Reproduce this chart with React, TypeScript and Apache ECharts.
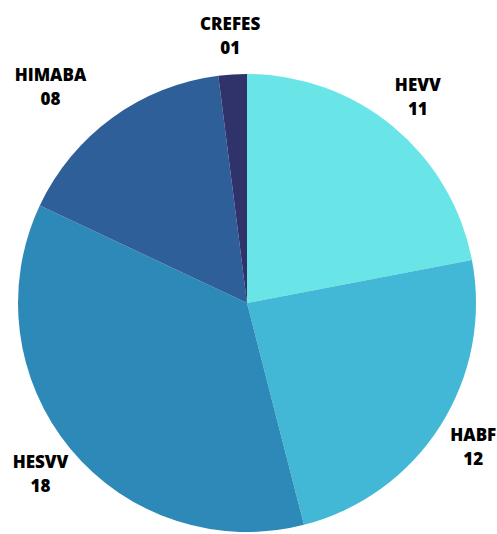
import React, { useEffect, useRef } from "react";
import * as echarts from "echarts";

const categories = ["HEVV", "HABF", "HESVV", "HIMABA", "CREFES"];
const values = [11, 12, 18, 8, 1];
const colors = ["#69E5E8", "#42B7D6", "#2D8AB8", "#2E5F99", "#2F3369"];

const pad2 = (v: number) => (v < 10 ? "0" + v : String(v));

export default function App() {
  const ref = useRef<HTMLDivElement>(null);
  useEffect(() => {
    if (!ref.current) return;
    const chart = echarts.init(ref.current, undefined, { renderer: "svg" });
    const pieData = categories.map((c, i) => ({
      name: c,
      value: values[i],
      itemStyle: { color: colors[i] },
    }));
    const labelData = categories.map((c, i) => ({
      name: c,
      value: values[i],
      label: c === "HIMABA" ? { padding: [0, 78, 0, 0] } : {},
    }));
    chart.setOption({
      animation: false,
      backgroundColor: "#ffffff",
      series: [
        {
          type: "pie",
          center: [247, 303],
          radius: [0, 229],
          startAngle: 90,
          clockwise: true,
          silent: true,
          label: { show: false },
          labelLine: { show: false },
          itemStyle: { borderWidth: 0 },
          data: pieData,
        },
        {
          type: "pie",
          center: [247, 303],
          radius: [245, 285],
          startAngle: 90,
          clockwise: true,
          silent: true,
          itemStyle: { color: "rgba(0,0,0,0)", borderWidth: 0 },
          labelLine: { show: false },
          label: {
            show: true,
            position: "inside",
            rotate: 0,
            overflow: "none",
            formatter: (p: any) => p.name + "\n" + pad2(p.value),
            color: "#000000",
            fontFamily: "Open Sans",
            fontWeight: 800,
            fontSize: 17,
            lineHeight: 24,
            align: "center",
          },
          data: labelData,
        },
      ],
    });
    return () => chart.dispose();
  }, []);
  return (
    <div
      ref={ref}
      style={{ position: "fixed", left: 0, top: 0, width: 497, height: 534 }}
    />
  );
}
